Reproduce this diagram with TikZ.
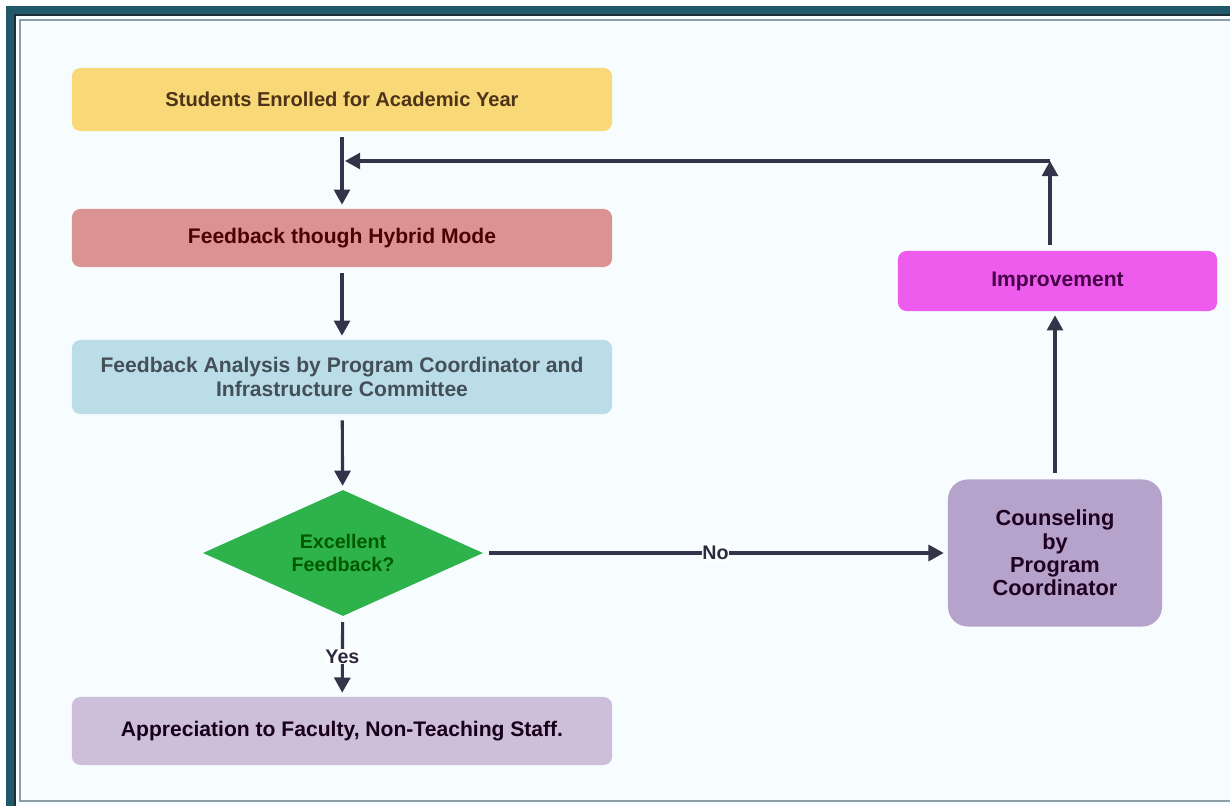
\documentclass[tikz,border=0pt]{standalone}
\usepackage{fontspec}
\setmainfont{Liberation Sans}
\usetikzlibrary{shapes.geometric,arrows.meta,positioning}

\definecolor{frameteal}{HTML}{22596A}
\definecolor{framedark}{HTML}{1E2C33}
\definecolor{framegrey}{HTML}{8C9EA8}
\definecolor{linec}{HTML}{33334A}
\definecolor{enrolC}{HTML}{F9D877}
\definecolor{hybridC}{HTML}{DA9292}
\definecolor{analysisC}{HTML}{BADDE8}
\definecolor{decisionC}{HTML}{2DB24C}
\definecolor{appreciateC}{HTML}{CDBFDA}
\definecolor{counselC}{HTML}{B5A3CB}
\definecolor{improveC}{HTML}{EE5CEE}

\tikzset{
  box/.style = {rectangle, rounded corners=6pt, minimum width=13.5cm, align=center, inner sep=2pt,
    font=\fontsize{15}{16.5}\selectfont\bfseries},
  decision/.style = {diamond, aspect=2.2, minimum width=7cm, minimum height=3.15cm, inner sep=0pt, align=center,
    fill=decisionC, text=green!35!black, font=\fontsize{14}{16}\selectfont\bfseries},
  arr/.style = {draw=linec, line width=2.2pt, shorten <=0.15cm, shorten >=0.1cm,
    -{Triangle[length=0.38cm, width=0.4cm]}},
  lbl/.style = {fill=white, inner sep=0.5pt, text=linec!85!black, font=\fontsize{14}{16}\selectfont\bfseries},
}

\begin{document}
\begin{tikzpicture}[x=0.025cm, y=-0.025cm]
\useasboundingbox (0,0) rectangle (1230,806);
\clip (0,0) rectangle (1230,806);
% frame
\fill[white] (0,0) rectangle (1230,806);
\fill[frameteal] (6,6) rectangle (1260,840);
\fill[framedark] (14,14) rectangle (1260,840);
\fill[white!97!cyan] (16,16) rectangle (1260,840);
\draw[framegrey, line width=1.4pt] (20,20) rectangle (1260,801);

% left column
\node[box, fill=enrolC, text=brown!40!black, minimum height=1.575cm,
  font=\fontsize{14.3}{16}\selectfont\bfseries] (enrol) at (342,99.5)
  {Students Enrolled for Academic Year};
\node[box, fill=hybridC, text=red!30!black, minimum height=1.45cm] (hybrid) at (342,238)
  {Feedback though Hybrid Mode};
\node[box, fill=analysisC, text=cyan!25!black, minimum height=1.85cm] (analysis) at (342,377)
  {Feedback Analysis by Program Coordinator and\\Infrastructure Committee};
\node[decision] (excellent) at (343,553) {Excellent\\Feedback?};
\node[box, fill=appreciateC, text=violet!20!black, minimum height=1.7cm] (appreciate) at (342,731)
  {Appreciation to Faculty, Non-Teaching Staff.};

% right column
\node[box, fill=counselC, text=violet!25!black, minimum width=5.35cm, minimum height=3.675cm,
  rounded corners=14pt, font=\fontsize{15.5}{16.5}\selectfont\bfseries] (counsel) at (1055,553)
  {Counseling\\by\\Program\\Coordinator};
\node[box, fill=improveC, text=violet!55!black, minimum width=7.975cm, minimum height=1.5cm] (improve) at (1057.5,281)
  {Improvement};

\coordinate (turn) at (1050,161);
\coordinate (merge) at (345,161);

\draw[arr] (enrol) -- (hybrid);
\draw[arr] (hybrid) -- (analysis);
\draw[arr] (analysis) -- (excellent);
\draw[arr] (excellent) -- node[lbl]{Yes} (appreciate);
\draw[arr] (excellent) -- node[lbl]{No} (counsel);
\draw[arr] (counsel.north) -- (counsel.north |- improve.south);
\draw[arr, shorten >=0pt] (improve.north -| turn) -- (turn);
\draw[arr, shorten <=0pt, shorten >=0pt] (turn) -- (merge);
\end{tikzpicture}
\end{document}
